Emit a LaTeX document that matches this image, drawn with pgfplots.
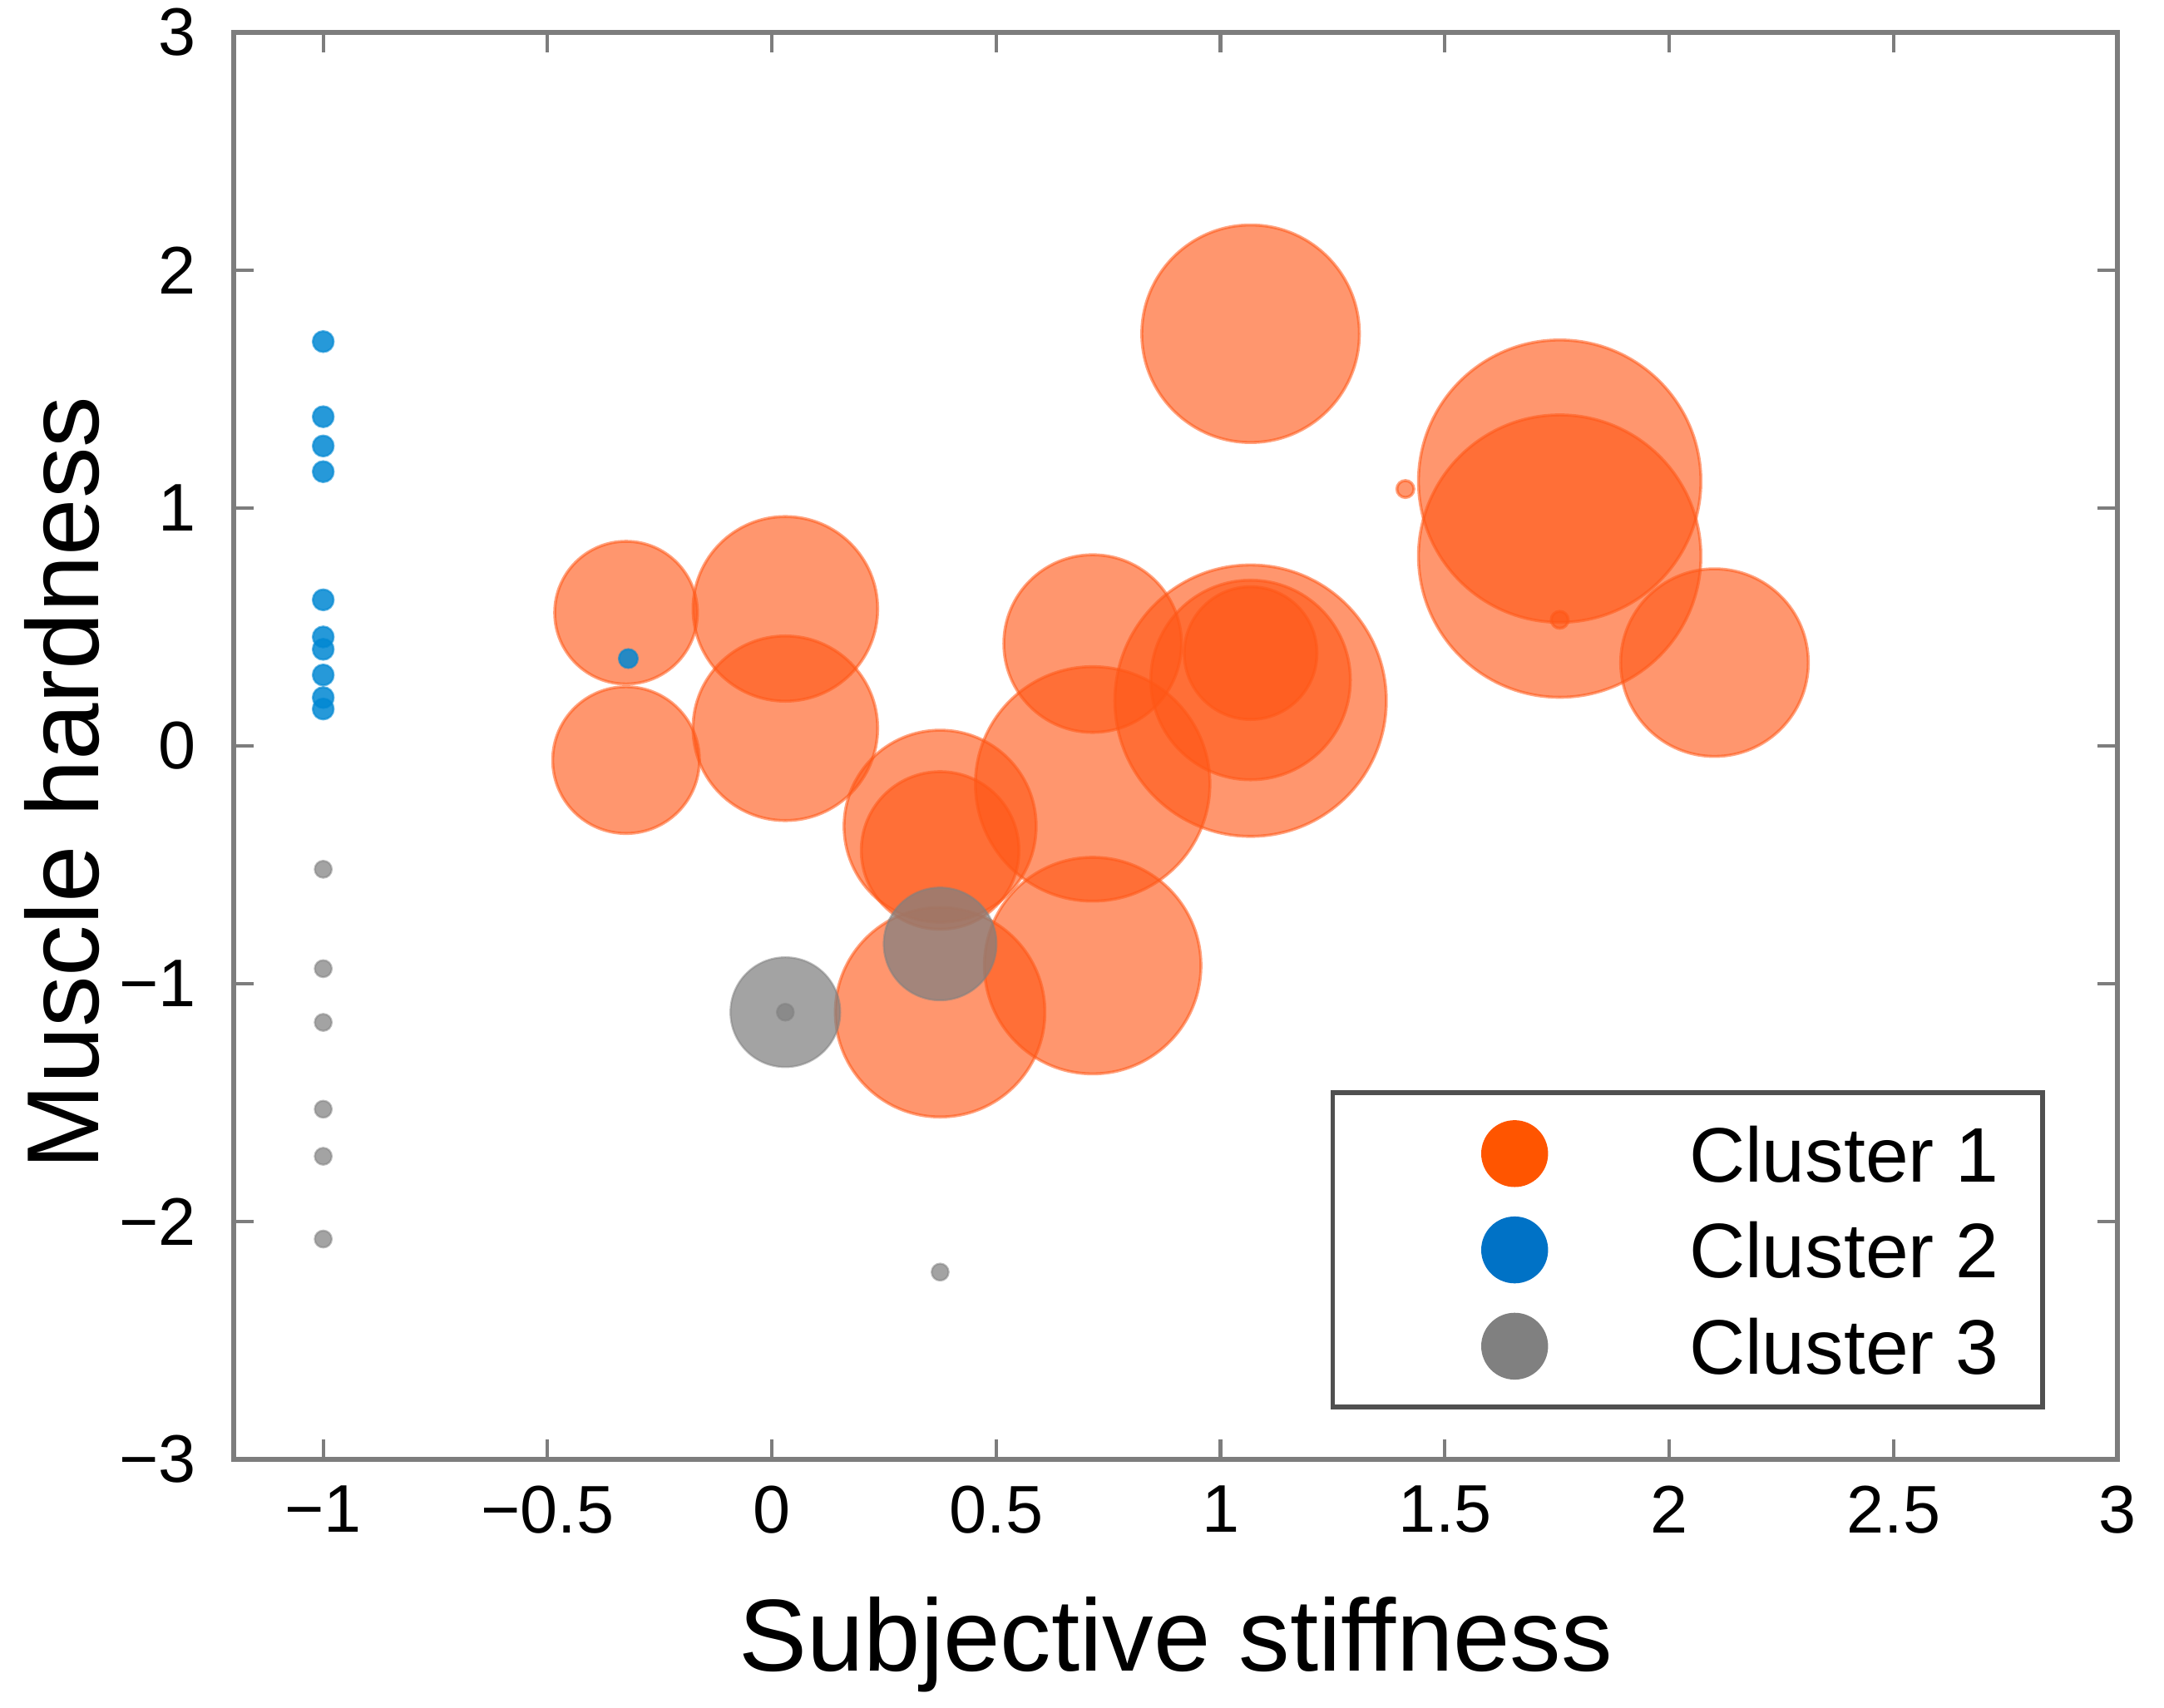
\documentclass[border=0pt]{standalone}
\usepackage{fontspec}
\setmainfont{Liberation Sans}
\usepackage{pgfplots}
\usepackage{pgfplotstable}
\pgfplotsset{compat=1.18}

\definecolor{c1}{RGB}{255,86,21}
\definecolor{c2}{RGB}{0,135,210}
\definecolor{c3}{RGB}{128,128,128}
\definecolor{l1}{RGB}{255,85,0}
\definecolor{l2}{RGB}{0,114,198}
\definecolor{l3}{RGB}{128,128,128}
\definecolor{axgray}{RGB}{125,125,125}
\definecolor{legframe}{RGB}{80,80,80}

% cluster 1: x y r(pt)
\pgfplotstableread{
x y r
1.067 1.733 21.8
1.756 1.113 28.3
1.756 0.798 28.3
1.412 1.08 1.7
1.756 0.53 1.7
2.101 0.35 18.8
-0.325 0.56 14.3
-0.325 -0.06 14.7
0.030 0.576 18.5
0.030 0.074 18.5
0.375 -0.338 19.25
0.375 -0.44 15.8
0.375 -1.12 21
0.715 0.43 17.8
0.715 -0.16 23.5
0.715 -0.924 21.7
1.067 0.19 27.2
1.067 0.277 20
1.067 0.39 13.3
}\clusterA

% cluster 2
\pgfplotstableread{
x y r
-1 1.70 2.1
-1 1.384 2.1
-1 1.261 2.1
-1 1.153 2.1
-1 0.614 2.1
-1 0.458 2.1
-1 0.406 2.1
-1 0.298 2.1
-1 0.203 2.1
-1 0.155 2.1
-0.32 0.367 1.9
}\clusterB

% cluster 3
\pgfplotstableread{
x y r
-1 -0.519 1.7
-1 -0.937 1.7
-1 -1.163 1.7
-1 -1.528 1.7
-1 -1.726 1.7
-1 -2.074 1.7
0.375 -2.213 1.7
0.030 -1.12 1.7
0.030 -1.12 11
0.375 -0.833 11.3
}\clusterC

\begin{document}
\begin{tikzpicture}
\begin{axis}[
  at={(0,0)}, anchor=south west,
  scale only axis,
  width=377.65pt, height=286pt,
  xmin=-1.2, xmax=3, ymin=-3, ymax=3,
  xtick={-1,-0.5,0,0.5,1,1.5,2,2.5,3},
  xticklabels={−1,−0.5,0,0.5,1,1.5,2,2.5,3},
  ytick={-3,-2,-1,0,1,2,3},
  yticklabels={−3,−2,−1,0,1,2,3},
  tick align=inside,
  major tick length=4pt,
  axis line style={axgray, line width=1pt},
  tick style={axgray, line width=0.7pt},
  ticklabel style={font=\fontsize{13.5}{16}\selectfont},
  xticklabel style={yshift=-1.8pt},
  yticklabel style={xshift=-4pt},
  xlabel={Subjective stiffness},
  ylabel={Muscle hardness},
  label style={font=\fontsize{20.5}{24}\selectfont},
  xlabel style={at={(axis description cs:0.5,0)}, anchor=base, yshift=-42.5pt},
  ylabel style={at={(axis description cs:-0.0718,0.474)}, anchor=base},
  legend cell align=left,
  legend style={at={(rel axis cs:0.9613,0.035)}, anchor=south east,
    draw=legframe, line width=0.9pt, fill=white,
    inner xsep=8.8pt, inner ysep=2.55pt,
    row sep=0pt, column sep=0pt,
    font=\fontsize{15.5}{18}\selectfont,
    nodes={inner sep=0pt, text depth=0pt, draw=none}},
]
\addlegendimage{legend image code/.code={\path[draw=none,fill=none] (-27.7pt,-9.65pt) rectangle (35pt,9.65pt); \fill[l1,draw=none] (0pt,0pt) circle (6.7pt);}}
\addlegendentry{Cluster 1}
\addlegendimage{legend image code/.code={\path[draw=none,fill=none] (-27.7pt,-9.65pt) rectangle (35pt,9.65pt); \fill[l2,draw=none] (0pt,0pt) circle (6.7pt);}}
\addlegendentry{Cluster 2}
\addlegendimage{legend image code/.code={\path[draw=none,fill=none] (-27.7pt,-9.65pt) rectangle (35pt,9.65pt); \fill[l3,draw=none] (0pt,0pt) circle (6.7pt);}}
\addlegendentry{Cluster 3}

\addplot[forget plot, scatter, only marks, mark=*, line width=0.6pt,
  point meta=\thisrow{r},
  scatter/use mapped color={draw=c1, fill=c1, fill opacity=0.62, draw opacity=0.55},
  visualization depends on={\thisrow{r}\as\bsize},
  scatter/@pre marker code/.append style={/tikz/mark size=\bsize pt}]
  table[x=x, y=y] {\clusterA};

\addplot[forget plot, scatter, only marks, mark=*, line width=0.4pt,
  point meta=\thisrow{r},
  scatter/use mapped color={draw=c3, fill=c3, fill opacity=0.72, draw opacity=0.5},
  visualization depends on={\thisrow{r}\as\bsize},
  scatter/@pre marker code/.append style={/tikz/mark size=\bsize pt}]
  table[x=x, y=y] {\clusterC};

\addplot[forget plot, scatter, only marks, mark=*, line width=0.4pt,
  point meta=\thisrow{r},
  scatter/use mapped color={draw=c2, fill=c2, fill opacity=0.85, draw opacity=0.6},
  visualization depends on={\thisrow{r}\as\bsize},
  scatter/@pre marker code/.append style={/tikz/mark size=\bsize pt}]
  table[x=x, y=y] {\clusterB};
\end{axis}
\pgfresetboundingbox
\path (-46.8pt,-49.8pt) rectangle (386.9pt,292.5pt);
\end{tikzpicture}
\end{document}
